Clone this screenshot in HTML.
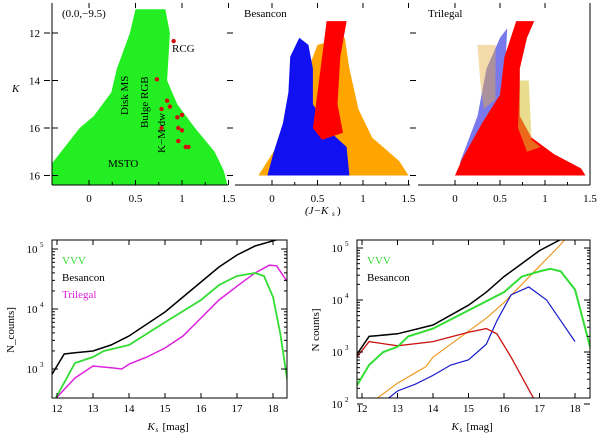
<!DOCTYPE html>
<html><head><meta charset="utf-8"><style>
html,body{margin:0;padding:0;background:#fff;}
svg{display:block;font-family:"Liberation Serif",serif;}
</style></head><body>
<svg id="fig" width="600" height="434" viewBox="0 0 600 434"></svg>
<script>
// ---- Bottom panel data (Ks mag, log10 counts) ----
const ksLeftBlack = [11.85,12.2,12.5,13,13.5,14,14.5,15,15.5,16,16.5,17,17.5,18.2];
const logLeftBlack = [2.9,3.25,3.27,3.3,3.4,3.55,3.75,3.95,4.2,4.45,4.7,4.9,5.05,5.17];
const ksLeftGreen = [11.95,12.5,13,13.3,14,15,16,16.5,17,17.5,17.75,18,18.2,18.4];
const logLeftGreen = [2.5,3.1,3.2,3.3,3.4,3.78,4.15,4.4,4.55,4.6,4.55,4.2,3.6,2.8];
const ksLeftMag = [11.95,12.5,13,13.5,13.8,14,14.5,15,15.5,16,16.5,17,17.5,17.9,18.1,18.4];
const logLeftMag = [2.5,2.85,3.05,3.02,3.0,3.08,3.2,3.35,3.55,3.85,4.15,4.38,4.6,4.73,4.72,4.45];

const ksRightBlack = [11.85,12.2,13,14,15,15.5,16,16.5,17,17.7];
const logRightBlack = [2.95,3.3,3.35,3.52,3.9,4.15,4.45,4.7,4.95,5.2];
const ksRightGreen = [11.85,12.2,12.6,13,13.3,14,15,16,16.5,17,17.3,17.6,18,18.5];
const logRightGreen = [2.35,2.75,3.0,3.1,3.3,3.45,3.8,4.15,4.45,4.55,4.6,4.55,4.2,2.9];
const ksRightRed = [11.85,12.2,13,14,15,15.5,15.8,16.2,16.6,17];
const logRightRed = [2.9,3.2,3.12,3.2,3.38,3.45,3.35,2.9,2.4,1.9];
const ksRightOrange = [12.15,12.5,13,13.5,13.8,14,14.5,15,15.5,16,16.5,17,17.5,17.7];
const logRightOrange = [1.95,2.15,2.4,2.6,2.72,2.9,3.15,3.4,3.65,3.95,4.3,4.65,5.0,5.15];
const ksRightBlue = [12.45,13,13.5,14,14.5,15,15.5,15.8,16.2,16.7,17.2,17.6,18];
const logRightBlue = [1.95,2.25,2.38,2.55,2.75,2.85,3.15,3.6,4.1,4.25,4.0,3.6,3.2];

const ksTicks = [12,13,14,15,16,17,18];
// ---- CMD regions (J-Ks, Ks) ----
const greenCloud = [[-0.4,18.6],[1.5,18.6],[1.45,17.8],[1.35,17],[1.14,16],[0.95,15],[0.84,14],[0.87,12],[0.82,11.0],[0.5,11.0],[0.44,12],[0.3,13.5],[0.24,14.5],[0.05,15.5],[-0.1,16],[-0.3,17],[-0.4,17.5]];
const rcgDots = [[0.91,12.34],[0.73,13.95],[0.84,14.85],[0.78,15.2],[0.87,15.1],[0.95,15.55],[1.0,15.45],[0.78,16.0],[0.96,16.0],[1.0,16.1],[0.96,16.55],[1.04,16.8],[1.07,16.8]];
const besOrange = [[-0.15,18],[1.5,18],[1.4,17.4],[1.1,16.4],[0.95,15.2],[0.85,13.5],[0.8,12.2],[0.5,12.5],[0.3,14.5],[0.1,16.5]];
const besBlue = [[-0.05,18],[0.85,18],[0.82,16.8],[0.65,16.2],[0.45,15],[0.45,13.5],[0.4,12.5],[0.3,12.2],[0.2,13],[0.18,14.5],[0.12,15.8],[0.02,17]];
const besRed = [[0.6,11.5],[0.82,11.5],[0.75,13],[0.72,15],[0.78,16.2],[0.55,16.5],[0.45,16.0],[0.5,14.5],[0.55,13]];
const triRed = [[0.0,18],[1.45,18],[1.4,17.7],[1.1,17.1],[0.85,16.4],[0.72,15.5],[0.72,13.5],[0.8,12.2],[0.88,11.5],[0.68,11.5],[0.55,13],[0.5,14.6],[0.3,15.8],[0.08,17.3]];
const triBlue = [[0.05,17.5],[0.25,15.5],[0.35,13.5],[0.5,12.2],[0.58,11.8],[0.55,14.3],[0.35,16.2]];
const triOrange = [[0.72,14],[0.82,14],[0.85,16.5],[0.95,16.8],[0.8,17],[0.7,16]];
const triOrange2 = [[0.25,12.5],[0.45,12.5],[0.45,14.8],[0.32,15.2],[0.28,14]];

const NS="http://www.w3.org/2000/svg";
const svg=document.getElementById('fig');
function el(tag,attrs,parent){const e=document.createElementNS(NS,tag);for(const k in attrs)e.setAttribute(k,attrs[k]);(parent||svg).appendChild(e);return e;}
function txt(x,y,s,attrs){const t=el('text',Object.assign({x:x,y:y,'font-size':11},attrs||{}));t.textContent=s;return t;}

// ---- CMD panels ----
const yK = k=>33+(k-12)*23.75;
const panels=[{x0:89,s:93,x1:52,x2:228,name:'vvv'},{x0:272,s:91,x1:235,x2:410,name:'besancon'},{x0:455,s:90,x1:418,x2:590,name:'trilegal'}];
function poly(p,pts,fill,name,op){
  const g=el('polygon',{points:pts.map(q=>(p.x0+q[0]*p.s).toFixed(1)+','+yK(q[1]).toFixed(1)).join(' '),fill:fill,'fill-opacity':op||1});
  
  
  return g;
}
panels.forEach((p,i)=>{
  const clip=el('clipPath',{id:'c'+i});el('rect',{x:p.x1,y:3,width:p.x2-p.x1,height:182},clip);
  const g=el('g',{'clip-path':'url(#c'+i+')'});
  
  
  const add=(pts,fill,n,op)=>g.appendChild(poly(p,pts,fill,n,op));
  if(i===0){add(greenCloud,'#22ee22','green-cloud');}
  if(i===1){add(besOrange,'#ffa500','orange-cloud');add(besBlue,'#1010f0','blue-cloud');add(besRed,'#ff0000','red-cloud');}
  if(i===2){add(triBlue,'#2020e0','blue-cloud',0.6);add(triOrange2,'#e8b040','orange-cloud-left',0.45);add(triRed,'#ff0000','red-cloud');add(triOrange,'#d8c030','orange-cloud-right',0.55);}
  el('line',{x1:p.x1,y1:185,x2:p.x2,y2:185,stroke:'#000'});
  [0,0.5,1,1.5].forEach(v=>{const x=p.x0+v*p.s;el('line',{x1:x,y1:185,x2:x,y2:180,stroke:'#000'});el('line',{x1:x,y1:3,x2:x,y2:8,stroke:'#000'});
    const t=txt(x,202,String(v),{'text-anchor':'middle'});});
  [0.25,0.75,1.25].forEach(v=>{const x=p.x0+v*p.s;el('line',{x1:x,y1:185,x2:x,y2:182,stroke:'#000'});});
  [12,14,16,18].forEach(k=>{el('line',{x1:p.x1-8,y1:yK(k),x2:p.x1-2,y2:yK(k),stroke:'#000'});});
});
el('line',{x1:52,y1:3,x2:52,y2:185,stroke:'#000'});
el('line',{x1:590,y1:3,x2:590,y2:185,stroke:'#000'});
[12,14,16,18].forEach((k,i)=>{el('line',{x1:52,y1:yK(k),x2:58,y2:yK(k),stroke:'#000'});
  const t=txt(40,yK(k)+4,['12','14','16','16'][i],{'text-anchor':'end'});});
rcgDots.forEach(d=>{const c=el('circle',{cx:89+d[0]*93,cy:yK(d[1]),r:2.2,fill:'#d01010'});
  });
[['(0.0,−9.5)',62,17,{}],['RCG',172,52,{}],['MSTO',108,167,{}],['Besancon',244,17,{}],['Trilegal',428,17,{}]].forEach(a=>{const t=txt(a[1],a[2],a[0],a[3]);});
[['Disk MS',128,115],['Bulge RGB',148,128],['K−M dw',165,153]].forEach(a=>{const t=txt(a[1],a[2],a[0],{transform:'rotate(-90 '+a[1]+' '+a[2]+')'});});
let t=txt(12,92,'K',{'font-style':'italic'});
t=txt(305,214,'(J−K',{'font-style':'italic'});
txt(332,216,'s',{'font-size':7,'font-style':'italic'});txt(337,214,')');

// ---- Bottom panels ----
function lumPanel(cfg){
  const X=k=>cfg.xa+(k-12)*cfg.sx, Y=l=>cfg.y3-(l-3)*cfg.sy;
  const clip=el('clipPath',{id:cfg.id});el('rect',{x:cfg.l,y:240,width:cfg.r-cfg.l,height:158},clip);
  const g=el('g',{'clip-path':'url(#'+cfg.id+')'});
  
  
  cfg.series.forEach(s=>{const p=el('polyline',{points:s.k.map((k,i)=>X(k).toFixed(1)+','+Y(s.v[i]).toFixed(1)).join(' '),fill:'none',stroke:s.c,'stroke-width':s.w},g);
    });
  const fr=el('rect',{x:cfg.l,y:240,width:cfg.r-cfg.l,height:158,fill:'none',stroke:'#000'});
  
  ksTicks.forEach(k=>{el('line',{x1:X(k),y1:398,x2:X(k),y2:393,stroke:'#000'});el('line',{x1:X(k),y1:240,x2:X(k),y2:245,stroke:'#000'});
    const tt=txt(X(k),412,String(k),{'text-anchor':'middle'});});
  cfg.decades.forEach(d=>{const y=Y(d);el('line',{x1:cfg.l,y1:y,x2:cfg.l+6,y2:y,stroke:'#000'});el('line',{x1:cfg.r,y1:y,x2:cfg.r-6,y2:y,stroke:'#000'});
    const tt=txt(cfg.l-20,y+4,'10',{'text-anchor':'middle'});
    txt(cfg.l-12,y-2,String(d),{'font-size':7});
    for(let m=2;m<10;m++){const ym=Y(d+Math.log10(m));if(ym>240&&ym<398){el('line',{x1:cfg.l,y1:ym,x2:cfg.l+3,y2:ym,stroke:'#000'});el('line',{x1:cfg.r,y1:ym,x2:cfg.r-3,y2:ym,stroke:'#000'});}}
  });
  const xt=txt((cfg.l+cfg.r)/2-22,430,'K',{'font-style':'italic'});
  txt((cfg.l+cfg.r)/2-14,432,'s',{'font-size':7,'font-style':'italic'});txt((cfg.l+cfg.r)/2-7,430,'[mag]');
  const yt=txt(cfg.l-38,330,cfg.ylab,{transform:'rotate(-90 '+(cfg.l-38)+' 330)','text-anchor':'middle'});
  cfg.legend.forEach((L,i)=>{const lt=txt(cfg.l+10,264+i*17,L[0],{fill:L[1]});});
}
lumPanel({id:'lum-left',l:52,r:287,xa:57,sx:36,y3:369,sy:60,decades:[3,4,5],ylab:'N_counts]',
  series:[{k:ksLeftMag,v:logLeftMag,c:'#dd22dd',w:1.5,n:'trilegal-line'},{k:ksLeftGreen,v:logLeftGreen,c:'#33dd33',w:1.8,n:'vvv-line'},{k:ksLeftBlack,v:logLeftBlack,c:'#000',w:1.5,n:'besancon-line'}],
  legend:[['VVV','#33dd33'],['Besancon','#000'],['Trilegal','#dd22dd']]});
lumPanel({id:'lum-right',l:357,r:590,xa:362,sx:35.5,y3:352,sy:52,decades:[2,3,4,5],ylab:'N  counts]',
  series:[{k:ksRightOrange,v:logRightOrange,c:'#ee9a20',w:1.2,n:'orange-line'},{k:ksRightBlue,v:logRightBlue,c:'#1a1acc',w:1.2,n:'blue-line'},{k:ksRightRed,v:logRightRed,c:'#cc1111',w:1.3,n:'red-line'},{k:ksRightGreen,v:logRightGreen,c:'#33dd33',w:2,n:'vvv-line'},{k:ksRightBlack,v:logRightBlack,c:'#000',w:1.5,n:'besancon-line'}],
  legend:[['VVV','#33dd33'],['Besancon','#000']]});
</script>
</body></html>
